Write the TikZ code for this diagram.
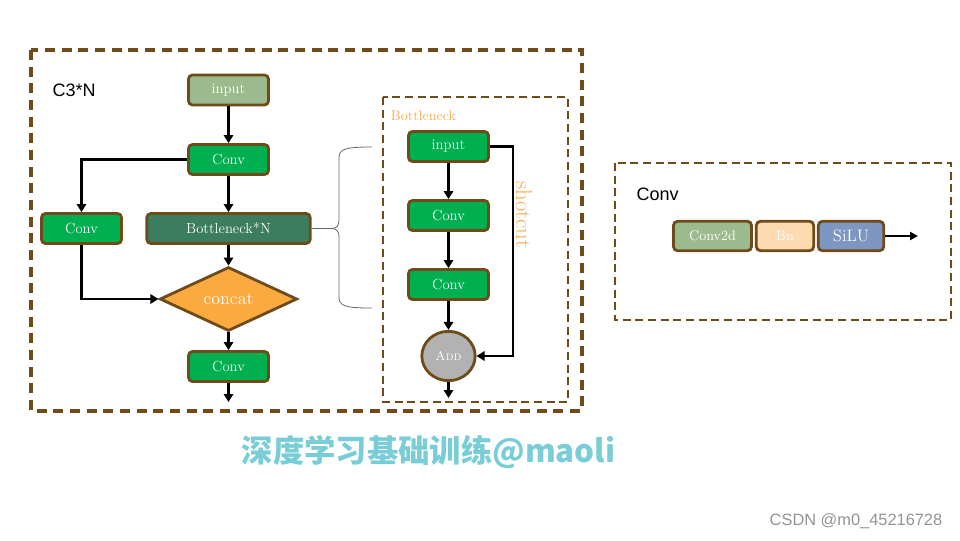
\documentclass[tikz,border=0pt]{standalone}
\usepackage{fontspec}
\usepackage{tikz}
\usetikzlibrary{arrows.meta,shapes.geometric}
\newfontfamily\labelfont{Liberation Sans}
\newfontfamily\cjkfont{Noto Sans CJK SC}

\definecolor{brn}{RGB}{110,75,25}
\definecolor{sage}{RGB}{155,187,143}
\definecolor{grn}{RGB}{0,176,80}
\definecolor{dgrn}{RGB}{59,125,94}
\definecolor{orng}{RGB}{251,170,64}
\definecolor{lorng}{RGB}{250,172,85}
\definecolor{peach}{RGB}{253,219,176}
\definecolor{lblue}{RGB}{126,150,194}
\definecolor{addgray}{RGB}{178,178,178}
\definecolor{wmark}{RGB}{120,205,215}

\begin{document}
\begin{tikzpicture}[x=0.75pt,y=-0.75pt,
	gbox/.style={draw=brn, line width=2.1pt, rounded corners=3pt, text=white,
		minimum width=60pt, minimum height=22.5pt, inner sep=1pt, font=\fontsize{11}{13}\selectfont},
	diam/.style={diamond, draw=brn, line width=2.1pt, fill=orng, text=white, aspect=2.1,
		minimum width=103pt, minimum height=48pt, inner sep=0pt, font=\fontsize{13.5}{15}\selectfont},
	addnode/.style={ellipse, draw=brn, line width=2.1pt, fill=addgray, text=white,
		minimum width=40pt, minimum height=37pt, inner sep=0pt, font=\fontsize{9.5}{11}\selectfont},
	arr/.style={line width=2.1pt, -{Triangle[length=6pt,width=7pt]}},
	dbox/.style={draw=brn, line width=2.5pt, dash pattern=on 7.5pt off 5pt},
	sbox/.style={draw=brn, line width=2pt, dash pattern=on 6pt off 3.5pt},
	brc/.style={draw=gray!80!black, line width=0.6pt}]
	\useasboundingbox (0,0) rectangle (960,540);

	% C3 block
	\draw[dbox] (31,50) rectangle (582,411);
	\node[anchor=west, font=\labelfont\fontsize{13.5}{15}\selectfont] (c3lbl) at (48,90) {C3*N};
	\node[gbox, fill=sage] (in) at (228.5,90) {input};
	\node[gbox, fill=grn] (c1) at (228.5,159.5) {Conv};
	\node[gbox, fill=grn] (cl) at (81.5,228.5) {Conv};
	\node[gbox, fill=dgrn, minimum width=122.5pt] (bn) at (228.5,228.5) {Bottleneck*N};
	\node[diam] (cat) at (228.5,299) {concat};
	\node[gbox, fill=grn] (c2) at (228.5,366.5) {Conv};
	\coordinate (out1) at (228.5,402);
	\draw[arr] (in) -- (c1);
	\draw[arr] (c1) -- (bn);
	\draw[arr] (c1.west) -| (cl);
	\draw[arr] (cl) |- (cat);
	\draw[arr] (bn) -- (cat);
	\draw[arr] (cat) -- (c2);
	\draw[arr] (c2) -- (out1);

	% brace
	\draw[brc] (bn.east) -- (331,228.5) .. controls (337,228.5) and (339,226) .. (339,219)
		-- (339,158) .. controls (339,149) and (345,147) .. (372,147);
	\draw[brc] (331,228.5) .. controls (337,228.5) and (339,231) .. (339,238)
		-- (339,297) .. controls (339,306) and (345,308) .. (372,308);

	% Bottleneck block
	\draw[sbox] (383,97) rectangle (568,402);
	\node[text=lorng, font=\fontsize{10.5}{12}\selectfont] (bnlbl) at (423.5,116) {Bottleneck};
	\node[gbox, fill=grn] (bin) at (448.5,146.5) {input};
	\node[gbox, fill=grn] (bc1) at (448.5,215.5) {Conv};
	\node[gbox, fill=grn] (bc2) at (448.5,284.5) {Conv};
	\node[addnode] (add) at (448.5,356) {\textsc{Add}};
	\coordinate (out2) at (448.5,398);
	\draw[arr] (bin) -- (bc1);
	\draw[arr] (bc1) -- (bc2);
	\draw[arr] (bc2) -- (add);
	\draw[arr] (add) -- (out2);
	\draw[arr] (bin.east) -- (513,146.5) |- (add.east);
	\node[rotate=-90, text=lorng, font=\fontsize{17}{19}\selectfont] (sc) at (524,215) {shotcut};

	% Conv block
	\draw[sbox] (615,163) rectangle (951,320);
	\node[anchor=west, font=\labelfont\fontsize{13.5}{15}\selectfont] (convlbl) at (632,194) {Conv};
	\node[gbox, fill=sage, minimum width=58.5pt, minimum height=22pt, font=\fontsize{10.5}{12}\selectfont] (c2d) at (712.5,236) {Conv2d};
	\node[gbox, fill=peach, minimum width=43pt, minimum height=22pt, font=\fontsize{10.5}{12}\selectfont] (bnn) at (785,236) {Bn};
	\node[gbox, fill=lblue, minimum width=49pt, minimum height=22pt, font=\fontsize{12.5}{14}\selectfont] (silu) at (851,236) {SiLU};
	\coordinate (out3) at (918,236);
	\draw[line width=2.1pt, -{Triangle[length=6pt,width=6pt]}] (silu.east) -- (out3);

	% watermarks
	\node[text=wmark, font=\cjkfont\bfseries\fontsize{23.5}{28}\selectfont] (wm) at (428.5,452) {深度学习基础训练@maoli};
	\node[text=gray!85, font=\labelfont\fontsize{12.3}{14}\selectfont] (csdn) at (856,521) {CSDN @m0\_45216728};
\end{tikzpicture}
\end{document}
